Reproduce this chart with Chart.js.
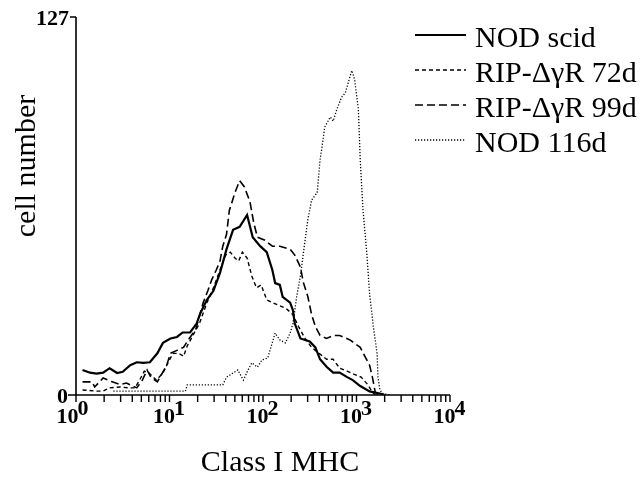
<!DOCTYPE html>
<html>
<head>
<meta charset="utf-8">
<script src="https://cdn.jsdelivr.net/npm/chart.js@4/dist/chart.umd.min.js"></script>
<style>
  html, body { margin: 0; padding: 0; background: #fff; }
  #wrap { width: 641px; height: 479px; }
</style>
</head>
<body>
<div id="wrap"><canvas id="chart"></canvas></div>
<script>
// series names (legend order)
const seriesNames = ["NOD scid", "RIP-\u0394\u03b3R 72d", "RIP-\u0394\u03b3R 99d", "NOD 116d"];

// [log10(Class I MHC), cell number]
const nodScid = [
  [0.07, 8.4], [0.15, 7.5], [0.22, 7.2], [0.29, 7.5], [0.36, 9], [0.44, 7.4], [0.50, 7.8],
  [0.58, 10], [0.65, 11], [0.72, 10.8], [0.79, 11], [0.87, 14], [0.93, 17.5], [1.01, 19],
  [1.08, 19.5], [1.14, 21], [1.22, 21], [1.29, 24], [1.33, 27.5], [1.40, 32], [1.47, 35],
  [1.54, 41], [1.61, 49], [1.68, 55.5], [1.75, 56.5], [1.83, 60.5], [1.89, 53], [1.97, 50],
  [2.04, 48], [2.10, 42], [2.13, 37.6], [2.18, 37], [2.21, 33], [2.29, 31], [2.32, 28.5],
  [2.34, 24], [2.40, 19], [2.50, 18], [2.56, 16], [2.61, 12], [2.68, 9.5], [2.75, 7.5],
  [2.82, 7.5], [2.90, 6], [2.96, 5], [3.04, 3], [3.14, 1.2], [3.25, 0.5], [3.30, 0]
];
const rip72d = [
  [0.07, 1.7], [0.22, 1.3], [0.29, 1.3], [0.36, 2.4], [0.47, 2.7], [0.56, 2.4], [0.63, 2.4],
  [0.68, 5], [0.73, 8], [0.78, 7.4], [0.86, 5], [0.93, 7.4], [1.00, 11.8], [1.04, 14],
  [1.10, 14], [1.15, 13], [1.19, 16.5], [1.25, 20], [1.32, 24], [1.40, 31], [1.47, 36],
  [1.54, 42], [1.60, 47], [1.65, 48], [1.70, 46], [1.74, 45], [1.78, 48], [1.83, 46],
  [1.88, 40], [1.93, 36], [1.98, 37], [2.04, 32], [2.10, 31], [2.18, 30], [2.25, 29],
  [2.32, 27], [2.38, 23], [2.45, 19], [2.52, 16], [2.60, 14], [2.68, 12], [2.75, 12],
  [2.82, 9], [2.90, 8], [2.97, 7], [3.05, 6], [3.12, 3.5], [3.17, 1], [3.20, 0]
];
const rip99d = [
  [0.07, 4.4], [0.17, 4.4], [0.20, 2.7], [0.29, 5.7], [0.38, 4.5], [0.47, 3.5], [0.54, 4],
  [0.65, 2.4], [0.71, 5], [0.76, 8.4], [0.80, 6], [0.87, 4.4], [0.97, 10], [1.01, 14],
  [1.08, 15], [1.15, 16], [1.20, 18.5], [1.28, 22], [1.36, 31], [1.41, 35], [1.45, 38.6],
  [1.50, 42], [1.54, 45], [1.57, 50], [1.61, 54], [1.64, 62], [1.70, 68], [1.75, 72],
  [1.80, 70], [1.86, 65], [1.90, 58], [1.94, 53], [2.02, 52], [2.10, 50], [2.18, 50],
  [2.29, 49], [2.34, 47], [2.40, 43], [2.43, 38], [2.48, 33], [2.52, 27], [2.56, 23],
  [2.61, 20], [2.68, 19], [2.75, 20], [2.82, 20], [2.93, 18.5], [3.04, 16], [3.09, 13],
  [3.14, 10], [3.17, 6], [3.20, 1], [3.23, 0]
];
const nod116d = [
  [0.40, 1.3], [1.17, 1.3], [1.19, 3.4], [1.57, 3.4], [1.61, 6], [1.68, 7.4], [1.73, 8.4],
  [1.79, 5], [1.84, 8.4], [1.88, 10.8], [1.94, 9.4], [1.99, 11.8], [2.05, 12.4], [2.13, 20.8],
  [2.18, 18.5], [2.24, 17.5], [2.29, 20.8], [2.32, 24], [2.36, 33], [2.40, 40], [2.45, 52],
  [2.48, 59], [2.52, 65.5], [2.58, 68], [2.61, 79], [2.63, 83], [2.66, 90], [2.72, 93.4],
  [2.75, 92], [2.79, 96], [2.84, 100], [2.88, 101.5], [2.93, 107], [2.95, 109], [2.98, 106],
  [3.02, 96], [3.04, 79], [3.07, 62], [3.11, 47.7], [3.14, 34], [3.18, 23], [3.22, 14],
  [3.23, 6], [3.25, 1.7], [3.28, 0.5], [3.36, 0]
];

// axis ticks
const xTickExp = [0, 1, 2, 3, 4];
const yTickLabels = [0, 127];

const toPoints = (arr) => arr.map(p => ({ x: Math.pow(10, p[0]), y: p[1] }));

const serifBold = "bold 22px 'Liberation Serif', 'Times New Roman', serif";
const serif = "30px 'Liberation Serif', 'Times New Roman', serif";

// axes, tick labels, titles and the legend are drawn here from the chart's scales
const paperAxes = {
  id: "paperAxes",
  afterDraw(chart) {
    const ctx = chart.ctx;
    const x = chart.scales.x, y = chart.scales.y;
    const y0 = y.getPixelForValue(yTickLabels[0]);
    const yTop = y.getPixelForValue(yTickLabels[1]);
    const xL = x.getPixelForValue(Math.pow(10, xTickExp[0]));
    const xR = x.getPixelForValue(Math.pow(10, xTickExp[xTickExp.length - 1]));
    ctx.save();
    ctx.strokeStyle = "#000";
    ctx.fillStyle = "#000";
    ctx.lineWidth = 1.6;

    // axis lines
    ctx.beginPath();
    ctx.moveTo(xL, yTop); ctx.lineTo(xL, y0);
    ctx.moveTo(xL - 8, y0); ctx.lineTo(xR, y0);
    ctx.moveTo(xL - 6, yTop); ctx.lineTo(xL, yTop);
    ctx.stroke();

    // x ticks (decades + minor)
    ctx.lineWidth = 1.4;
    ctx.beginPath();
    for (let i = 0; i < xTickExp.length; i++) {
      const e = xTickExp[i];
      const mMax = i === xTickExp.length - 1 ? 1 : 9;
      for (let m = 1; m <= mMax; m++) {
        const px = x.getPixelForValue(m * Math.pow(10, e));
        ctx.moveTo(px, y0); ctx.lineTo(px, y0 + 7);
      }
    }
    ctx.stroke();

    // x tick labels 10^n
    ctx.font = serifBold;
    ctx.textBaseline = "alphabetic";
    ctx.textAlign = "left";
    xTickExp.forEach(e => {
      const px = x.getPixelForValue(Math.pow(10, e));
      const base = "10", sup = String(e);
      const wb = ctx.measureText(base).width;
      const ws = ctx.measureText(sup).width;
      const left = px - (wb + ws) / 2 - (e === 0 ? 3 : 0);
      ctx.fillText(base, left, y0 + 28);
      ctx.fillText(sup, left + wb - 1, y0 + 20);
    });

    // y tick labels
    ctx.textAlign = "right";
    ctx.fillText(String(yTickLabels[0]), xL - 8, y0 + 8);
    ctx.fillText(String(yTickLabels[1]), xL - 7, yTop + 8);

    // axis titles
    ctx.font = serif;
    ctx.textAlign = "center";
    ctx.fillText("Class I MHC", 280, 471);
    ctx.save();
    ctx.translate(35, 166);
    ctx.rotate(-Math.PI / 2);
    ctx.fillText("cell number", 0, 0);
    ctx.restore();

    // legend
    ctx.textAlign = "left";
    chart.data.datasets.forEach((ds, i) => {
      const base = 47 + i * 35;
      ctx.save();
      ctx.lineWidth = ds.borderWidth;
      ctx.setLineDash(ds.borderDash || []);
      ctx.beginPath();
      ctx.moveTo(415, base - 12);
      ctx.lineTo(466, base - 12);
      ctx.stroke();
      ctx.restore();
      ctx.fillText(ds.label, 475, base);
    });
    ctx.restore();
  }
};

const ctx = document.getElementById("chart").getContext("2d");
new Chart(ctx, {
  type: "line",
  data: {
    datasets: [
      { label: seriesNames[0], data: toPoints(nodScid), borderColor: "#000", borderWidth: 2.2, borderDash: [] },
      { label: seriesNames[1], data: toPoints(rip72d), borderColor: "#000", borderWidth: 1.4, borderDash: [4, 3] },
      { label: seriesNames[2], data: toPoints(rip99d), borderColor: "#000", borderWidth: 1.6, borderDash: [8, 4] },
      { label: seriesNames[3], data: toPoints(nod116d), borderColor: "#000", borderWidth: 1.3, borderDash: [1.2, 1.8] }
    ]
  },
  options: {
    responsive: true,
    maintainAspectRatio: false,
    animation: false,
    layout: { padding: { left: 76, right: 191, top: 17, bottom: 84 } },
    elements: { point: { radius: 0 }, line: { tension: 0, fill: false } },
    scales: {
      x: { type: "logarithmic", min: 1, max: 10000, display: false },
      y: { type: "linear", min: 0, max: 127, display: false }
    },
    plugins: { legend: { display: false }, tooltip: { enabled: false } }
  },
  plugins: [paperAxes]
});
</script>
</body>
</html>
